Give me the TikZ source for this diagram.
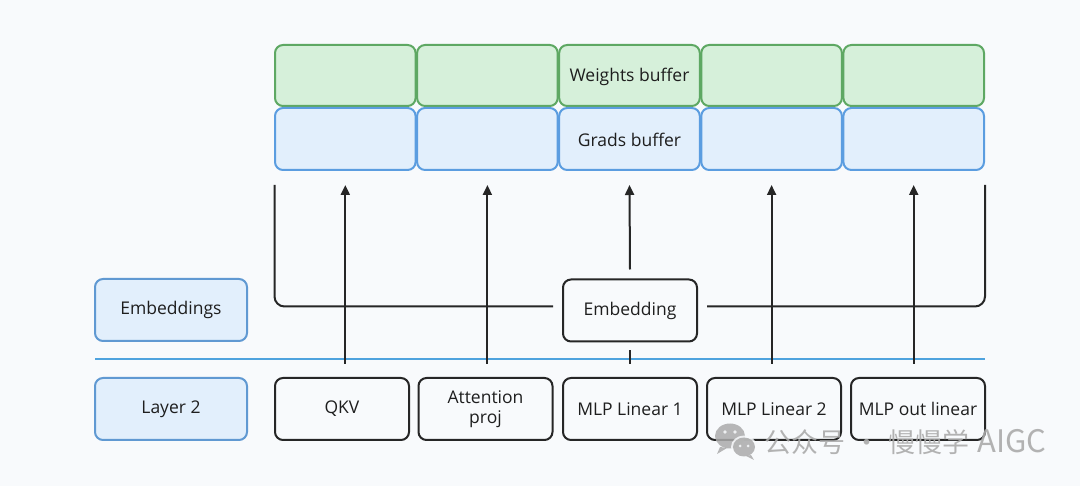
\documentclass[tikz,border=0pt]{standalone}
\usepackage{fontspec}
\setmainfont{Open Sans}
\newfontfamily\cjk{Noto Sans CJK SC}
\usetikzlibrary{arrows.meta}
\definecolor{bgc}{HTML}{F8FAFC}
\definecolor{gfill}{HTML}{D6F0DA}
\definecolor{gline}{HTML}{5EA863}
\definecolor{bfill}{HTML}{E2EFFC}
\definecolor{bline}{HTML}{5B9DE0}
\definecolor{sepc}{HTML}{4FA3DE}
\definecolor{txt}{HTML}{1E1E1E}
\definecolor{wmk}{HTML}{ABABAB}
\tikzset{
  base/.style={rounded corners=8pt, line width=2pt, inner sep=0pt, outer sep=0pt, align=center, text=txt, font=\fontsize{17.5}{20.5}\selectfont},
  wbuf/.style={base, draw=gline, fill=gfill, minimum width=140.6pt, minimum height=61pt},
  gbuf/.style={base, draw=bline, fill=bfill, minimum width=140.6pt, minimum height=62pt},
  lab/.style={base, draw=bline!85!gray, fill=bfill, minimum width=152pt, minimum height=62pt},
  layerbox/.style={base, draw=black!85, fill=bgc, minimum width=134pt, minimum height=62pt},
  arr/.style={line width=2pt, black!85, -{Triangle[length=10pt,width=9pt]}},
  ln/.style={line width=2pt, black!85},
  bufText/.style={text=txt, inner sep=0pt, font=\fontsize{17.5}{20}\selectfont},
}
\begin{document}
\begin{tikzpicture}[x=1pt,y=-1pt]
\fill[bgc] (0,0) rectangle (1080,486);
\useasboundingbox (0,0) rectangle (1080,486);
% buffers
\foreach \i in {1,...,5}{
  \pgfmathsetmacro{\cx}{345.3+(\i-1)*142.1}
  \node[wbuf] (w\i) at (\cx,75.5) {};
  \node[gbuf] (g\i) at (\cx,139) {};
}
\node[bufText] (wt) at ([yshift=-1.5pt]w3.center) {Weights buffer};
\node[bufText] (gt) at ([yshift=-1pt]g3.center) {Grads buffer};
% left labels
\node[lab] (embs) at (171,310) {Embeddings};
\node[lab] (lay2) at (171,409) {Layer 2};
% separator
\coordinate (sepL) at (95,359.5);
\coordinate (sepR) at (985,359.5);
\draw[draw=sepc, line width=2pt] (sepL) -- (sepR);
% layer boxes
\node[layerbox] (qkv) at (342,409) {QKV};
\node[layerbox] (attn) at (485.5,409) {Attention\\proj};
\node[layerbox] (mlp1) at (630,409) {MLP Linear 1};
\node[layerbox] (mlp2) at (774,409) {MLP Linear 2};
\node[layerbox] (mlpo) at (918,409) {MLP out linear};
% embedding
\node[layerbox] (emb) at (630,310.5) {Embedding};
% tap line
\coordinate (tap) at (0,364);
\coordinate (top) at (0,185);
% arrows from layers to grads
\foreach \g in {g1,g2,g4,g5}{
  \draw[arr] (\g.south |- tap) -- (\g.south |- top);
}
% embedding bracket
\coordinate (bl) at (274.5,306.5);
\coordinate (br) at (985,306.5);
\draw[ln, rounded corners=10pt] (bl |- top) -- (bl) -- ([xshift=-10pt]emb.west |- bl);
\draw[ln, rounded corners=10pt] ([xshift=10pt]emb.east |- br) -- (br) -- (br |- top);
\draw[arr] ([yshift=10pt]emb.north) -- (g3.south |- top);
\draw[ln] ([yshift=-9pt]emb.south) -- (emb.south |- tap);
% watermark
\begin{scope}[opacity=0.85]
  \fill[wmk] (730,436) ellipse (15pt and 12.5pt);
  \fill[wmk] (720,447) -- (717,454) -- (727,448) -- cycle;
  \fill[bgc] (744,447) ellipse (13pt and 11.5pt);
  \fill[wmk] (744,447) ellipse (11pt and 9.5pt);
  \fill[wmk] (751,455) -- (754,460) -- (746,456) -- cycle;
  \fill[bgc] (725,432) circle (1.8pt) (735,432) circle (1.8pt);
  \fill[bgc] (740,446) circle (1.5pt) (748,446) circle (1.5pt);
\end{scope}
\node[anchor=west, text=wmk, opacity=0.9, inner sep=0pt, font=\cjk\fontsize{27}{29}\selectfont] (wm) at (764,442) {公众号\hspace{8pt}·\hspace{8pt}慢慢学\hspace{8pt}{\fontsize{31}{31}\selectfont AIGC}};
\end{tikzpicture}
\end{document}
